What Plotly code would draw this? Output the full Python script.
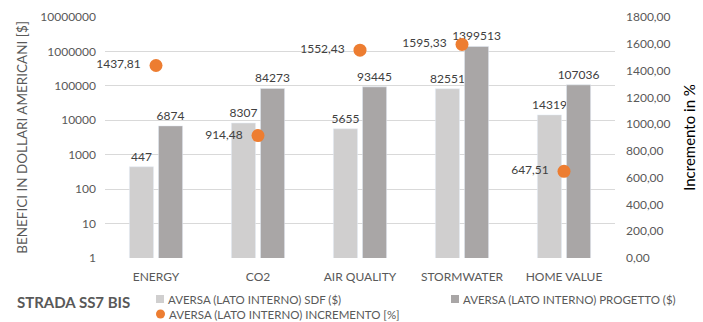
import plotly.graph_objects as go

categories = ["ENERGY", "CO2", "AIR QUALITY", "STORMWATER", "HOME VALUE"]
sdf_values = [447, 8307, 5655, 82551, 14319]
progetto_values = [6874, 84273, 93445, 1399513, 107036]
incremento_values = [1437.81, 914.48, 1552.43, 1595.33, 647.51]

left_ticks = [1, 10, 100, 1000, 10000, 100000, 1000000, 10000000]
right_ticks = [0, 200, 400, 600, 800, 1000, 1200, 1400, 1600, 1800]

SERIES_NAMES = [
    "AVERSA (LATO INTERNO) SDF ($)",
    "AVERSA (LATO INTERNO) PROGETTO ($)",
    "AVERSA (LATO INTERNO) INCREMENTO [%]",
]
COLOR_SDF = "#d0cfcf"
COLOR_PROG = "#a9a6a6"
COLOR_INC = "#ed7d31"

W, H = 703, 322
ML, MR, MT, MB = 105, 88, 17, 64
PW, PH = W - ML - MR, H - MT - MB


def it_num(v):
    return f"{v:.2f}".replace(".", ",")


def px_x(px):
    # pixel column -> plot-area (paper) fraction
    return (px - ML) / PW


def px_y(py):
    # pixel row -> plot-area (paper) fraction
    return (H - MB - py) / PH


font_family = "Lato, 'Open Sans', sans-serif"

fig = go.Figure()

fig.add_trace(go.Bar(
    x=categories, y=sdf_values, name=SERIES_NAMES[0],
    marker=dict(color=COLOR_SDF),
    text=[str(v) for v in sdf_values], textposition="outside",
    constraintext="none",
    textfont=dict(color="#404040", size=12), cliponaxis=False,
))
fig.add_trace(go.Bar(
    x=categories, y=progetto_values, name=SERIES_NAMES[1],
    marker=dict(color=COLOR_PROG),
    text=[str(v) for v in progetto_values], textposition="outside",
    constraintext="none",
    textfont=dict(color="#404040", size=12), cliponaxis=False,
))
fig.add_trace(go.Scatter(
    x=categories, y=incremento_values, yaxis="y2", mode="markers+text",
    name=SERIES_NAMES[2],
    marker=dict(color=COLOR_INC, size=13),
    text=[it_num(v) + "  " for v in incremento_values],
    textposition="middle left",
    textfont=dict(color="#404040", size=12), cliponaxis=False,
))

# legend drawn as shapes + labels under the plot
legend_items = [
    (SERIES_NAMES[0], COLOR_SDF, "rect", 156, 299),
    (SERIES_NAMES[1], COLOR_PROG, "rect", 451, 299),
    (SERIES_NAMES[2], COLOR_INC, "circle", 156, 314),
]
shapes = []
annotations = []
for name, color, kind, x0, yc in legend_items:
    size = 8 if kind == "rect" else 9
    shapes.append(dict(
        type=kind, xref="paper", yref="paper",
        x0=px_x(x0), x1=px_x(x0 + size),
        y0=px_y(yc + size / 2), y1=px_y(yc - size / 2),
        fillcolor=color, line=dict(width=0),
    ))
    annotations.append(dict(
        text=name, xref="paper", yref="paper",
        x=px_x(x0 + size + 2), y=px_y(yc), xanchor="left", yanchor="middle",
        showarrow=False, font=dict(size=11.5, color="#595959"),
    ))

annotations.append(dict(
    text="<b>STRADA SS7 BIS</b>", xref="paper", yref="paper",
    x=px_x(15), y=px_y(302), xanchor="left", yanchor="middle", showarrow=False,
    font=dict(size=15, color="#595959"),
))

fig.update_layout(
    width=W, height=H,
    margin=dict(l=ML, r=MR, t=MT, b=MB, autoexpand=False),
    paper_bgcolor="white", plot_bgcolor="white",
    font=dict(family=font_family, color="#595959", size=12),
    barmode="group", bargap=0.43, bargroupgap=0.17,
    showlegend=False,
    xaxis=dict(showgrid=False, showline=False, ticks="", tickfont=dict(size=12),
               ticklabelstandoff=10),
    yaxis=dict(
        type="log", range=[0, 7], tickvals=left_ticks,
        ticktext=[str(v) for v in left_ticks],
        showgrid=True, gridcolor="#d9d9d9", gridwidth=1, zeroline=False,
        showline=False, ticks="", tickfont=dict(size=12),
        ticklabelstandoff=8,
        title=dict(text="BENEFICI IN DOLLARI AMERICANI [$]", standoff=9,
                   font=dict(size=13.5, color="#595959")),
    ),
    yaxis2=dict(
        overlaying="y", side="right", range=[0, 1800],
        tickvals=right_ticks, ticktext=[it_num(v) for v in right_ticks],
        showgrid=False, zeroline=False, showline=False, ticks="",
        tickfont=dict(size=12), ticklabelstandoff=10,
        title=dict(text="Incremento in %", standoff=14,
                   font=dict(size=15, color="#000000")),
    ),
    shapes=shapes,
    annotations=annotations,
)

fig.write_html("out.html")
